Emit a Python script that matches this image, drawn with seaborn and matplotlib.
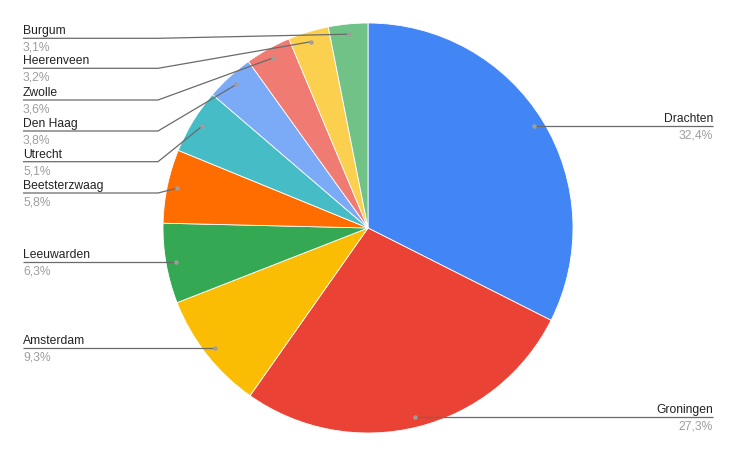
import matplotlib
matplotlib.use("Agg")
import matplotlib.pyplot as plt
import seaborn as sns
import numpy as np

# ---- data ----
cities = ["Drachten", "Groningen", "Amsterdam", "Leeuwarden", "Beetsterzwaag",
          "Utrecht", "Den Haag", "Zwolle", "Heerenveen", "Burgum"]
shares = [32.4, 27.3, 9.3, 6.3, 5.8, 5.1, 3.8, 3.6, 3.2, 3.1]
pct_labels = ["32,4%", "27,3%", "9,3%", "6,3%", "5,8%", "5,1%", "3,8%", "3,6%", "3,2%", "3,1%"]
colors = ["#4285F4", "#EA4335", "#FBBC04", "#34A853", "#FF6D01",
          "#46BDC6", "#7BAAF7", "#F07B72", "#FCD04F", "#71C287"]

# ---- layout (pixel coords, y measured from top) ----
W, H = 736, 455
cx, cy, R = 368, 228, 205
dot_frac = 0.95
side = ["R", "R", "L", "L", "L", "L", "L", "L", "L", "L"]
line_y = [125, 416, 347.3, 261.3, 193, 161.7, 131, 100, 68.3, 38.3]
left_x, right_x, elbow_x = 23, 713, 158

sns.set_theme(style="white")
plt.rcParams["font.family"] = ["Liberation Sans", "DejaVu Sans"]
palette = sns.color_palette(colors)

fig = plt.figure(figsize=(W / 100, H / 100), dpi=100)
ax = fig.add_axes([0, 0, 1, 1])
ax.set_xlim(0, W)
ax.set_ylim(0, H)
ax.set_aspect("equal")
ax.axis("off")

wedges, _ = ax.pie(shares, colors=palette, startangle=90, counterclock=False,
                   center=(cx, H - cy), radius=R,
                   wedgeprops=dict(edgecolor="white", linewidth=0.6))
ax.set_xlim(0, W)
ax.set_ylim(0, H)

fs = 8.7
for w, name, pct, s, ly in zip(wedges, cities, pct_labels, side, line_y):
    mid = np.deg2rad((w.theta1 + w.theta2) / 2)
    dx = cx + dot_frac * R * np.cos(mid)
    dy = (H - cy) + dot_frac * R * np.sin(mid)
    Ly = H - ly
    if abs(Ly - dy) < 3:
        Ly = dy
    if s == "R":
        xs = [dx, right_x]
        ys = [Ly, Ly]
        tx, ha = right_x, "right"
    else:
        xs = [left_x, elbow_x, dx]
        ys = [Ly, Ly, dy]
        tx, ha = left_x, "left"
    ax.plot(xs, ys, color="#6a6a6a", lw=0.9, solid_capstyle="butt", zorder=3)
    ax.plot([dx], [dy], "o", color="#9e9e9e", ms=3.2, mew=0, zorder=4)
    ax.text(tx, Ly + 4, name, ha=ha, va="baseline", fontsize=fs, color="#222222")
    ax.text(tx, Ly - 12.3, pct, ha=ha, va="baseline", fontsize=fs, color="#9e9e9e")

fig.savefig("out.png", dpi=100, facecolor="white")
